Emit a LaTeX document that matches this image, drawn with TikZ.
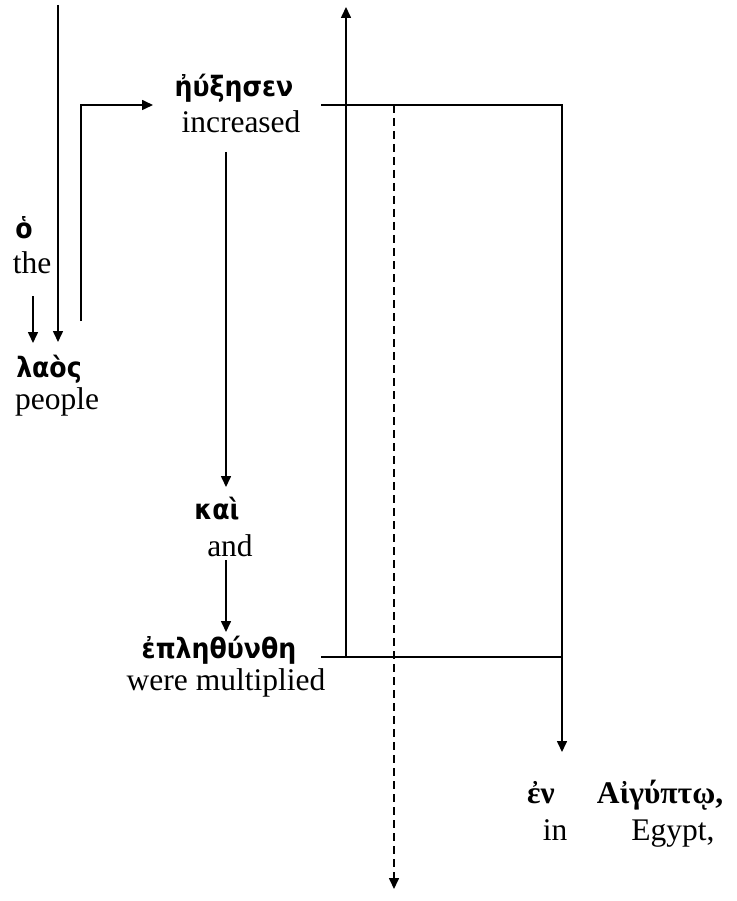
\documentclass[tikz,border=0pt]{standalone}
\usepackage{fontspec}
\setmainfont{Liberation Serif}
\newfontfamily\grsans{DejaVu Sans Condensed}
\newfontfamily\grserif{Liberation Serif}
\usetikzlibrary{arrows.meta}
\begin{document}
\begin{tikzpicture}[x=1pt,y=-1pt,
  en/.style={inner sep=0pt,anchor=base,font=\fontsize{31.5}{36}\selectfont},
  gr/.style={inner sep=0pt,anchor=base,font=\grsans\bfseries\fontsize{28}{34}\selectfont},
  grs/.style={inner sep=0pt,anchor=base,font=\grserif\bfseries\fontsize{31.5}{36}\selectfont},
  ln/.style={line width=1.6pt},
  arr/.style={ln,-{Triangle[length=11pt,width=10pt]}},
  dsh/.style={arr,dash pattern=on 8pt off 5pt}]
\useasboundingbox (0,0) rectangle (736,901);
% words
\node[gr] (ogr) at (24,238) {ὁ};
\node[en] (oen) at (32,273) {the};
\node[gr] (lgr) at (49,377) {λαὸς};
\node[en] (len) at (57,409) {people};
\node[gr] (egr) at (234,97) {ἠύξησεν};
\node[en] (een) at (241,133) {increased};
\node[gr] (kgr) at (217,519) {καὶ};
\node[en] (ken) at (230,556) {and};
\node[gr] (pgr) at (219,658) {ἐπληθύνθη};
\node[en] (pen) at (226,690) {were multiplied};
\node[grs] (engr) at (541,803) {ἐν};
\node[grs] (aigr) at (660,803) {Αἰγύπτῳ,};
\node[en] (inen) at (555,840) {in};
\node[en] (egen) at (673,840) {Egypt,};
% coordinates
\coordinate (t1) at (58,5);
\coordinate (l1) at (58,342);
\coordinate (s1) at (33,296);
\coordinate (s2) at (33,343);
\coordinate (b1) at (81,321);
\coordinate (b2) at (81,105);
\coordinate (b3) at (153,105);
\coordinate (d1) at (226,152);
\coordinate (d2) at (226,487);
\coordinate (k1) at (226,560);
\coordinate (k2) at (226,632);
\coordinate (h1) at (321,105);
\coordinate (h2) at (562,105);
\coordinate (h3) at (562,752);
\coordinate (g1) at (321,657);
\coordinate (g2) at (562,657);
\coordinate (v1) at (346,657);
\coordinate (v2) at (346,7);
\coordinate (q1) at (394,105);
\coordinate (q2) at (394,889);
% connectors
\draw[arr] (t1) -- (l1);
\draw[arr] (s1) -- (s2);
\draw[arr] (b1) -- (b2) -- (b3);
\draw[arr] (d1) -- (d2);
\draw[arr] (k1) -- (k2);
\draw[arr] (h1) -- (h2) -- (h3);
\draw[ln] (g1) -- (g2);
\draw[arr] (v1) -- (v2);
\draw[dsh] (q1) -- (q2);
\end{tikzpicture}
\end{document}
